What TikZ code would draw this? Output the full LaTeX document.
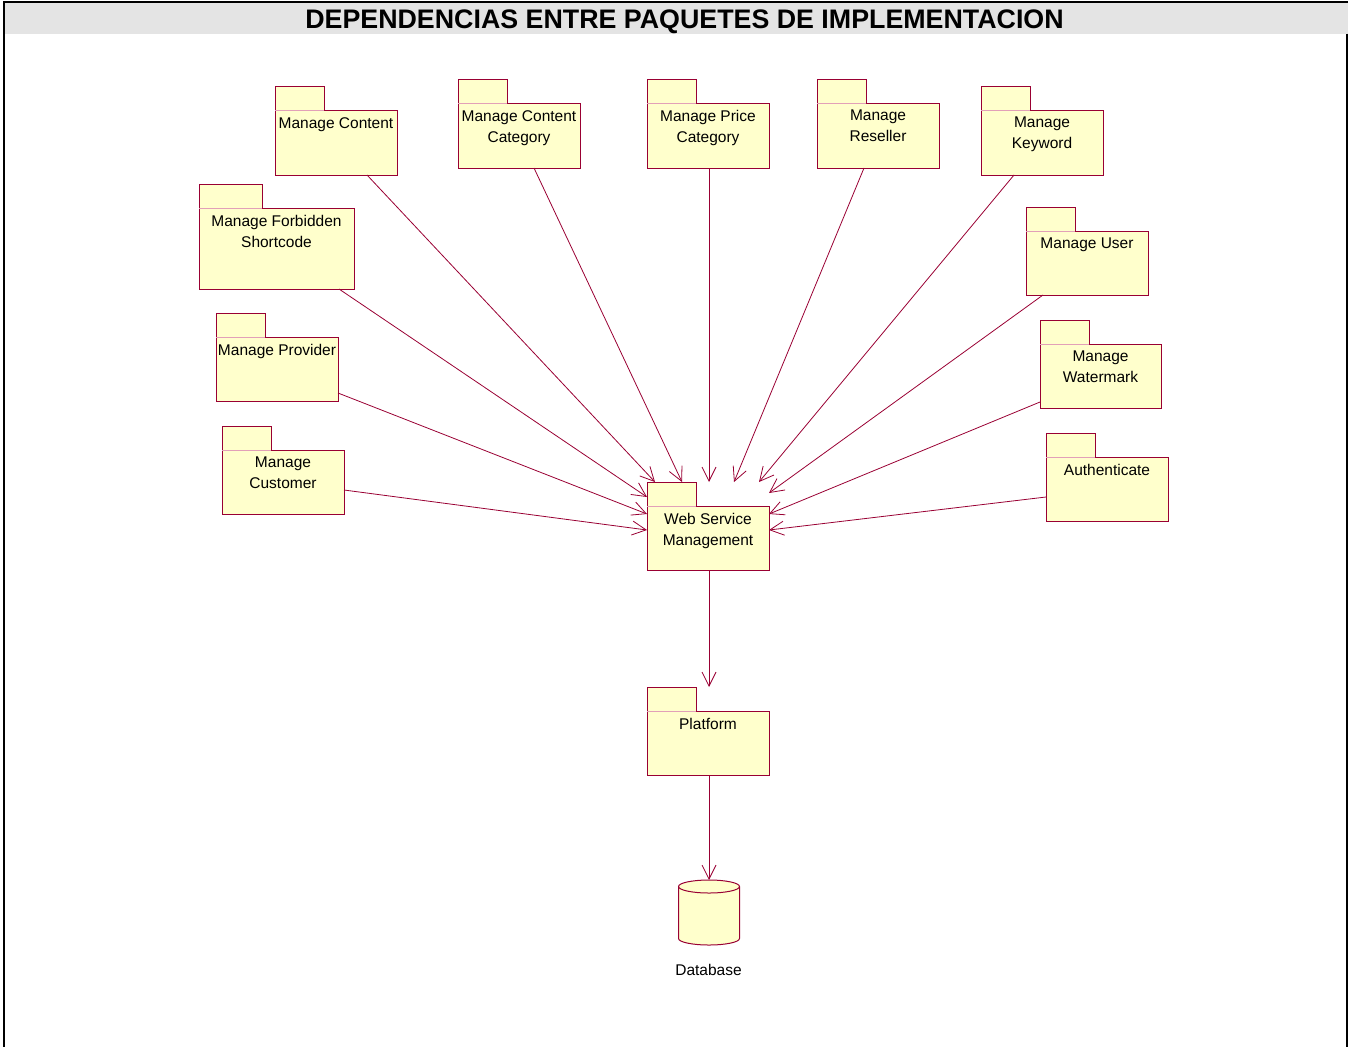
\documentclass[tikz,border=0pt]{standalone}
\usepackage{fontspec}
\setmainfont{Liberation Sans}
\usetikzlibrary{arrows.meta}

\definecolor{pkgfill}{RGB}{255,255,204}
\definecolor{pkgline}{RGB}{153,0,51}
\definecolor{pkgseam}{RGB}{226,160,184}
\definecolor{titlegray}{RGB}{228,228,228}

\tikzset{
  pkgbody/.style={draw=pkgline, fill=pkgfill, line width=1pt, inner sep=0pt, outer sep=0pt},
  pkgtab/.style={pkgbody, minimum height=23.5},
  seamline/.style={draw=pkgseam, line width=0.8pt},
  pkgtext/.style={anchor=north, inner sep=0pt, align=center,
    font=\fontsize{15.5}{21}\selectfont},
  dep/.style={draw=pkgline, line width=0.8pt,
    -{Straight Barb[length=14pt, width=14pt, line width=0.8pt]}},
  frameline/.style={draw=black, line width=2pt},
}

% UML package: name, x1, y1, x2, y2 of the body, tab width, label
\newcommand\umlpkg[7]{%
  \node[pkgbody, minimum width={#4-#2}, minimum height={#5-#3}] (#1)
    at ({(#2+#4)/2},{(#3+#5)/2}) {};
  \node[pkgtab, minimum width=#6, anchor=south west] (#1-tab) at (#1.north west) {};
  \draw[seamline] (#1-tab.south west) -- (#1-tab.south east);
  \node[pkgtext] (#1-txt) at ([yshift=-7pt]#1.north) {#7};
}

\begin{document}
\begin{tikzpicture}[x=1pt, y=-1pt]
\useasboundingbox (0,0) rectangle (1348,1047);

% frame and title band
\fill[titlegray] (5,3) rectangle (1348,33.5);
\draw[frameline] (3,1.8) -- (1348,1.8);
\draw[frameline] (4,1) -- (4,1047);
\draw[frameline] (1346.5,33.5) -- (1346.5,1047);
\node[anchor=base, inner sep=0pt, font=\bfseries\fontsize{26.8}{30}\selectfont] (title)
  at (684.5,28.3) {DEPENDENCIAS ENTRE PAQUETES DE IMPLEMENTACION};

% packages
\umlpkg{mc}{275}{110}{397}{175}{49}{Manage Content}
\umlpkg{mcc}{458}{103}{580}{168}{49}{Manage Content\\Category}
\umlpkg{mpc}{647}{103}{769}{168}{49}{Manage Price\\Category}
\umlpkg{mr}{817}{103}{939}{168}{49}{Manage\\Reseller}
\umlpkg{mk}{981}{110}{1103}{175}{49}{Manage\\Keyword}
\umlpkg{mfs}{199}{208}{354}{289}{63}{Manage Forbidden\\Shortcode}
\umlpkg{mu}{1026}{231}{1148}{295}{49}{Manage User}
\umlpkg{mp}{216}{337}{338}{401}{49}{Manage Provider}
\umlpkg{mw}{1040}{344}{1161}{408}{49}{Manage\\Watermark}
\umlpkg{mcu}{222}{450}{344}{514}{49}{Manage\\Customer}
\umlpkg{au}{1046}{457}{1168}{521}{49}{Authenticate}
\umlpkg{wsm}{647}{506}{769}{570}{49}{Web Service\\Management}
\umlpkg{pl}{647}{711}{769}{775}{49}{Platform}

% database
\node[inner sep=0pt, outer sep=0pt, minimum width=61, minimum height=65] (db)
  at (709,912.5) {};
\filldraw[draw=pkgline, fill=pkgfill, line width=1pt]
  ([yshift=-6.5pt]db.north west) -- ([yshift=6.5pt]db.south west)
  arc[start angle=180, end angle=360, x radius=30.5pt, y radius=6.5pt]
  -- ([yshift=-6.5pt]db.north east)
  arc[start angle=0, end angle=180, x radius=30.5pt, y radius=6.5pt] -- cycle;
\draw[draw=pkgline, line width=1pt] ([yshift=-6.5pt]db.north west)
  arc[start angle=180, end angle=360, x radius=30.5pt, y radius=6.5pt];
\node[font=\fontsize{15.5}{21}\selectfont, inner sep=0pt] (db-txt) at (708.5,970) {Database};

% dependencies into Web Service Management
\draw[dep] ([xshift=92]mc.south west)  -- ([xshift=8,  yshift=24]wsm.north west);
\draw[dep] ([xshift=76]mcc.south west) -- ([xshift=35, yshift=24]wsm.north west);
\draw[dep] ([xshift=62]mpc.south west) -- ([xshift=62, yshift=24]wsm.north west);
\draw[dep] ([xshift=47]mr.south west)  -- ([xshift=87, yshift=24]wsm.north west);
\draw[dep] ([xshift=33]mk.south west)  -- ([xshift=112,yshift=24]wsm.north west);
\draw[dep] ([xshift=140]mfs.south west) -- ([yshift=9]wsm.north west);
\draw[dep] ([xshift=17]mu.south west)  -- ([xshift=122,yshift=13]wsm.north west);
\draw[dep] ([yshift=8]mp.south east)   -- ([yshift=-8]wsm.north west);
\draw[dep] ([yshift=6]mw.south west)   -- ([xshift=122,yshift=-8]wsm.north west);
\draw[dep] ([yshift=24]mcu.south east) -- ([yshift=-24]wsm.north west);
\draw[dep] ([yshift=24]au.south west)  -- ([xshift=122,yshift=-24]wsm.north west);

% lower layers
\draw[dep] ([xshift=62]wsm.south west) -- ([xshift=62,yshift=24]pl.north west);
\draw[dep] ([xshift=62]pl.south west)  -- (db.north);
\end{tikzpicture}
\end{document}
